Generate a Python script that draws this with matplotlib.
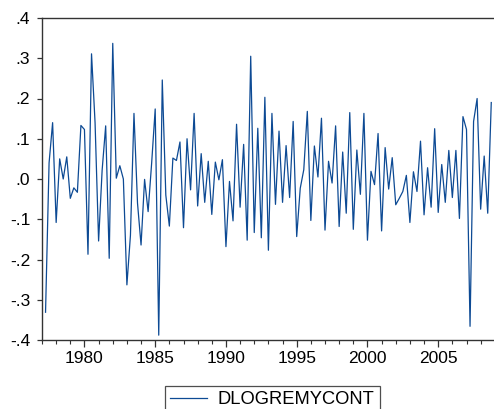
import numpy as np
import pandas as pd
import matplotlib
matplotlib.use("Agg")
import matplotlib.pyplot as plt
from matplotlib.ticker import FixedLocator, FuncFormatter

plt.rcParams["font.family"] = ["Liberation Sans", "DejaVu Sans"]

# quarterly first difference of log series, 1977Q2 - 2008Q4
start_q = "1977Q2"
end_q = "2008Q4"
dlogremycont = [
    -0.331, 0.040, 0.140,
    -0.108, 0.050, 0.000, 0.055,
    -0.048, -0.022, -0.033, 0.133,
    0.123, -0.187, 0.311, 0.140,
    -0.154, 0.022, 0.132, -0.197,
    0.337, 0.002, 0.033, 0.000,
    -0.263, -0.140, 0.163, -0.060,
    -0.164, -0.001, -0.081, 0.040,
    0.174, -0.388, 0.246, -0.040,
    -0.117, 0.052, 0.046, 0.092,
    -0.121, 0.100, -0.027, 0.163,
    -0.067, 0.063, -0.058, 0.044,
    -0.088, 0.042, -0.002, 0.048,
    -0.168, -0.006, -0.104, 0.136,
    -0.070, 0.086, -0.152, 0.305,
    -0.133, 0.126, -0.146, 0.203,
    -0.177, 0.163, -0.063, 0.119,
    -0.058, 0.083, -0.046, 0.143,
    -0.143, -0.023, 0.023, 0.168,
    -0.103, 0.082, 0.005, 0.151,
    -0.127, 0.044, -0.010, 0.132,
    -0.118, 0.067, -0.085, 0.165,
    -0.125, 0.072, -0.038, 0.163,
    -0.152, 0.019, -0.014, 0.113,
    -0.129, 0.078, -0.025, 0.053,
    -0.064, -0.048, -0.031, 0.009,
    -0.108, 0.018, -0.031, 0.094,
    -0.089, 0.028, -0.070, 0.125,
    -0.083, 0.036, -0.058, 0.071,
    -0.046, 0.071, -0.098, 0.155,
    0.123, -0.366, 0.143, 0.200,
    -0.075, 0.057, -0.085, 0.190,
]
year_ticks = [1980, 1985, 1990, 1995, 2000, 2005]
y_ticks = [-0.4, -0.3, -0.2, -0.1, 0.0, 0.1, 0.2, 0.3, 0.4]

periods = pd.period_range(start_q, end_q, freq="Q")
x = periods.year + (periods.quarter - 1) / 4.0

W, H = 494, 409
fig = plt.figure(figsize=(W / 100, H / 100), dpi=100)
ax = fig.add_axes([42 / W, 69 / H, 452.8 / W, 322 / H])

line, = ax.plot(x, dlogremycont, color="#0d4a94", lw=0.9, label="DLOGREMYCONT")

ax.set_xlim(1977, 2009)
ax.set_ylim(-0.4, 0.4)

ax.xaxis.set_major_locator(FixedLocator(year_ticks))
ax.xaxis.set_minor_locator(FixedLocator(range(1977, 2009)))
ax.yaxis.set_major_locator(FixedLocator(y_ticks))


def fmt(v, pos):
    s = "%.1f" % v
    if s in ("-0.0", "0.0"):
        return ".0"
    return s.replace("0.", ".")


ax.yaxis.set_major_formatter(FuncFormatter(fmt))

for side in ("left", "top", "bottom"):
    ax.spines[side].set_color("#333333")
    ax.spines[side].set_linewidth(1.0)
ax.spines["right"].set_visible(False)

ax.tick_params(axis="x", which="major", direction="out", length=5, width=0.9,
               labelsize=12.5, pad=3, color="#333333")
ax.tick_params(axis="x", which="minor", direction="out", length=3, width=0.8,
               color="#333333")
ax.tick_params(axis="y", which="major", direction="out", length=3.5, width=0.9,
               labelsize=12.5, pad=5, color="#333333")

# legend box sits at the bottom edge and runs past it, as in the source
leg = fig.legend(handles=[line], loc="upper center",
                 bbox_to_anchor=(272.5 / W, 1 - 386 / H),
                 fontsize=13.2, frameon=True, fancybox=False, borderpad=0.3,
                 handlelength=2.0, handletextpad=0.6, borderaxespad=0)
leg.get_frame().set_edgecolor("#222222")
leg.get_frame().set_linewidth(0.9)

fig.savefig("out.png", dpi=100)
